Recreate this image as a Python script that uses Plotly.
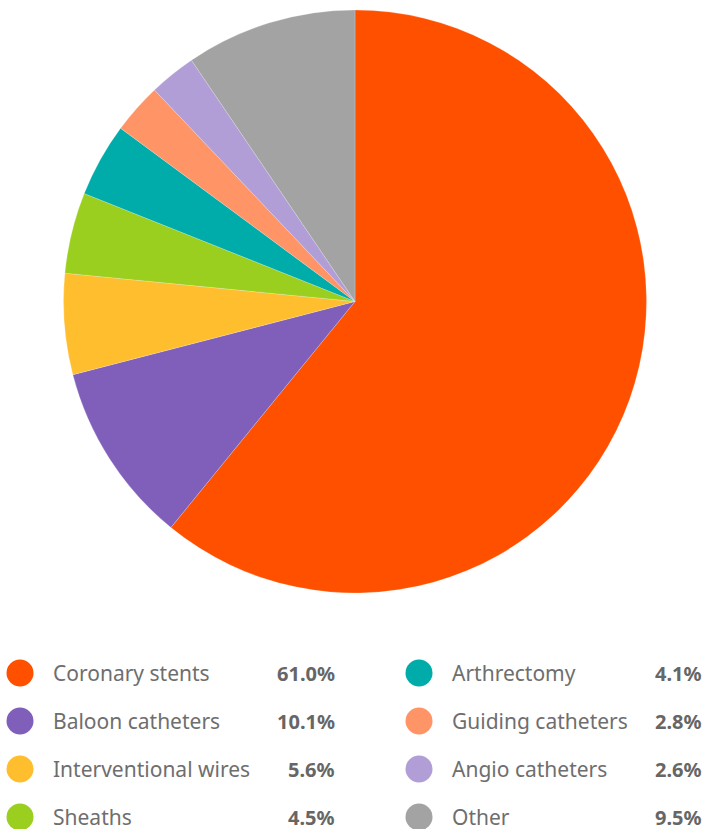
import plotly.graph_objects as go

# Market share by device category
categories = ["Coronary stents", "Baloon catheters", "Interventional wires", "Sheaths",
              "Arthrectomy", "Guiding catheters", "Angio catheters", "Other"]
shares = [61.0, 10.1, 5.6, 4.5, 4.1, 2.8, 2.6, 9.5]
share_labels = ["61.0%", "10.1%", "5.6%", "4.5%", "4.1%", "2.8%", "2.6%", "9.5%"]
colors = ["#FF5000", "#7F5FBA", "#FFBE2E", "#9BCF1F", "#00ACAA", "#FF9467", "#B19ED6", "#A3A3A3"]

W, H = 705, 829
cx, cy, r = 355, 301.5, 291.5

fig = go.Figure()

fig.add_trace(go.Pie(
    labels=categories,
    values=shares,
    sort=False,
    direction="clockwise",
    rotation=0,
    marker=dict(colors=colors, line=dict(color="white", width=0.2)),
    textinfo="none",
    hoverinfo="label+percent",
    showlegend=False,
    domain=dict(x=[(cx - r) / W, (cx + r) / W], y=[1 - (cy + r) / H, 1 - (cy - r) / H]),
))

# Custom two-column legend laid out in pixel coordinates
col_dot_x = [20, 419]
col_text_x = [51, 450]
col_val_x = [337, 704]
row_y = [673, 721, 769, 817]

dot_x, dot_y = [], []
annotations = []
for i, (name, val) in enumerate(zip(categories, share_labels)):
    col, row = divmod(i, 4)
    dot_x.append(col_dot_x[col])
    dot_y.append(row_y[row])
    annotations.append(dict(
        x=col_text_x[col], y=row_y[row], xref="x", yref="y", text=name,
        showarrow=False, xanchor="left", yanchor="middle",
        font=dict(family="Noto Sans", size=21, color="#6E6E6E")))
    annotations.append(dict(
        x=col_val_x[col], y=row_y[row], xref="x", yref="y", text="<b>" + val + "</b>",
        showarrow=False, xanchor="right", yanchor="middle",
        font=dict(family="Noto Sans", size=20, color="#666666")))

fig.add_trace(go.Scatter(
    x=dot_x, y=dot_y, mode="markers",
    marker=dict(size=27, color=colors, line=dict(width=0)),
    hoverinfo="skip", showlegend=False, cliponaxis=False,
))

fig.update_layout(
    width=W, height=H,
    margin=dict(l=0, r=0, t=0, b=0),
    paper_bgcolor="white", plot_bgcolor="rgba(0,0,0,0)",
    xaxis=dict(range=[0, W], visible=False, fixedrange=True),
    yaxis=dict(range=[H, 0], visible=False, fixedrange=True),
    annotations=annotations,
)

fig.write_html("out.html")
